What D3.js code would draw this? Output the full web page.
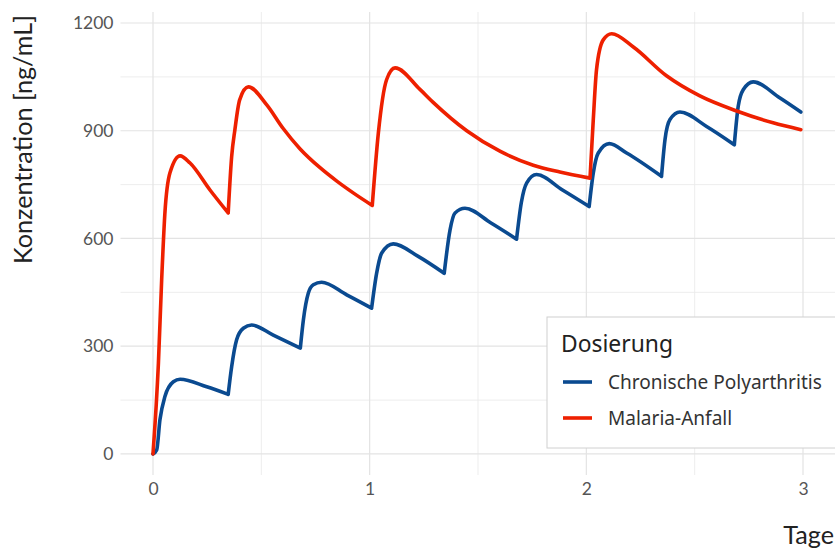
<!DOCTYPE html>
<html>
<head>
<meta charset="utf-8">
<script src="https://cdn.jsdelivr.net/npm/d3@7"></script>
<style>
  body { margin: 0; background: #fff; }
  .tick text { font-family: Lato, sans-serif; }
</style>
</head>
<body>
<div id="chart"></div>
<script>
// concentration curves: [day, ng/mL]
var seriesNames = ["Chronische Polyarthritis", "Malaria-Anfall"];
var seriesColors = ["#0a4a90", "#ee2000"];

var polyarthritis = [
  [0, 0], [0.017, 11], [0.032, 95], [0.055, 160], [0.094, 201], [0.125, 208], [0.248, 187], [0.347, 166],
  [0.363, 243], [0.386, 318], [0.417, 350], [0.455, 359], [0.555, 331], [0.68, 295],
  [0.694, 373], [0.717, 448], [0.74, 471], [0.778, 478], [0.894, 443], [1.009, 406],
  [1.032, 503], [1.055, 559], [1.109, 585], [1.224, 550], [1.344, 503],
  [1.371, 624], [1.394, 671], [1.44, 684], [1.56, 643], [1.678, 598],
  [1.70, 700], [1.725, 755], [1.77, 778], [1.89, 735], [2.013, 689],
  [2.032, 782], [2.055, 838], [2.106, 864], [2.186, 838], [2.347, 773],
  [2.363, 875], [2.386, 931], [2.432, 952], [2.555, 912], [2.683, 861],
  [2.701, 968], [2.724, 1014], [2.77, 1036], [2.894, 991], [2.99, 952]
];

var malaria = [
  [0, 0], [0.025, 253], [0.04, 485], [0.055, 671], [0.078, 782], [0.125, 830], [0.171, 810], [0.263, 735], [0.347, 671],
  [0.363, 828], [0.378, 903], [0.40, 986], [0.44, 1022], [0.525, 972], [0.60, 907], [0.678, 850], [0.771, 797], [0.85, 759], [0.924, 727], [1.012, 692],
  [1.04, 893], [1.078, 1042], [1.117, 1075], [1.232, 1015], [1.293, 979], [1.448, 900], [1.601, 843], [1.755, 804], [1.878, 785], [2.017, 768],
  [2.032, 930], [2.047, 1070], [2.078, 1153], [2.117, 1170], [2.217, 1133], [2.37, 1053], [2.524, 997], [2.694, 955], [2.862, 922], [2.99, 903]
];

var xTicks = [0, 1, 2, 3];
var yTicks = [0, 300, 600, 900, 1200];
var xMinor = [0.5, 1.5, 2.5];
var yMinor = [150, 450, 750, 1050];

var svgWidth = 835;
var svgHeight = 550;

var panel = { left: 120.5, right: 835.5, top: 12, bottom: 475 };

var svg = d3.select("#chart")
  .append("svg")
  .attr("width", svgWidth)
  .attr("height", svgHeight);

// ggplot-style 5% expansion
var xScale = d3.scaleLinear()
  .domain([-0.15, 3.15])
  .range([panel.left, panel.right]);

var yScale = d3.scaleLinear()
  .domain([-58.6, 1230.6])
  .range([panel.bottom, panel.top]);

// shrink/grow a text until it has the width seen in the picture
function fitWidth(sel, target) {
  var fs = parseFloat(sel.attr("font-size"));
  var w = sel.node().getComputedTextLength();
  if (w > 0) sel.attr("font-size", (fs * target / w).toFixed(2) + "px");
  return sel;
}

// grid
var grid = svg.append("g");

grid.selectAll(".vminor").data(xMinor).enter().append("line")
  .attr("x1", d => xScale(d)).attr("x2", d => xScale(d))
  .attr("y1", panel.top).attr("y2", panel.bottom)
  .attr("stroke", "#ebebeb").attr("stroke-width", 0.9);

grid.selectAll(".hminor").data(yMinor).enter().append("line")
  .attr("x1", panel.left).attr("x2", panel.right)
  .attr("y1", d => yScale(d)).attr("y2", d => yScale(d))
  .attr("stroke", "#ebebeb").attr("stroke-width", 0.9);

grid.selectAll(".vmajor").data(xTicks).enter().append("line")
  .attr("x1", d => xScale(d)).attr("x2", d => xScale(d))
  .attr("y1", panel.top).attr("y2", panel.bottom)
  .attr("stroke", "#e3e3e3").attr("stroke-width", 1.2);

grid.selectAll(".hmajor").data(yTicks).enter().append("line")
  .attr("x1", panel.left).attr("x2", panel.right)
  .attr("y1", d => yScale(d)).attr("y2", d => yScale(d))
  .attr("stroke", "#e3e3e3").attr("stroke-width", 1.2);

// axes (labels only, like theme_minimal)
var bottomAxis = d3.axisBottom(xScale).tickValues(xTicks).tickFormat(d3.format("d")).tickSize(0).tickPadding(0);
var leftAxis = d3.axisLeft(yScale).tickValues(yTicks).tickFormat(d3.format("d")).tickSize(0).tickPadding(0);

var xAxisG = svg.append("g")
  .attr("transform", `translate(0, ${panel.bottom + 8})`)
  .call(bottomAxis);
xAxisG.select(".domain").remove();
xAxisG.selectAll("text")
  .attr("dy", "0.71em")
  .attr("font-size", "17.5px")
  .attr("fill", "#555");

var yAxisG = svg.append("g")
  .attr("transform", `translate(${panel.left - 7}, 0)`)
  .call(leftAxis);
yAxisG.select(".domain").remove();
yAxisG.selectAll("text")
  .attr("font-size", "17.5px")
  .attr("fill", "#555");

// split each series at its troughs so the dose kinks stay sharp
function segmentsOf(data) {
  var segs = [];
  var cur = [data[0]];
  for (var i = 1; i < data.length; i++) {
    cur.push(data[i]);
    var isTrough = i < data.length - 1 && data[i][1] < data[i - 1][1] && data[i][1] < data[i + 1][1];
    if (isTrough) {
      segs.push(cur);
      cur = [data[i]];
    }
  }
  segs.push(cur);
  return segs;
}

var line = d3.line()
  .x(d => xScale(d[0]))
  .y(d => yScale(d[1]))
  .curve(d3.curveMonotoneX);

[polyarthritis, malaria].forEach(function(data, k) {
  var path = segmentsOf(data).map(s => line(s)).join("");
  svg.append("path")
    .attr("d", path)
    .attr("fill", "none")
    .attr("stroke", seriesColors[k])
    .attr("stroke-width", 3.6)
    .attr("stroke-linejoin", "round")
    .attr("stroke-linecap", "round");
});

// axis titles
var yTitle = svg.append("text")
  .attr("transform", "rotate(-90)")
  .attr("x", -264)
  .attr("y", 32)
  .attr("font-family", "Lato, sans-serif")
  .attr("font-size", "22px")
  .attr("fill", "#222")
  .text("Konzentration [ng/mL]");
fitWidth(yTitle, 249);

// the reference crops this title at the bottom edge; keep it just inside
svg.append("text")
  .attr("x", 834)
  .attr("y", 544)
  .attr("text-anchor", "end")
  .attr("font-family", "Lato, sans-serif")
  .attr("font-size", yTitle.attr("font-size"))
  .attr("fill", "#222")
  .text("Tage");

// legend
var legend = svg.append("g").attr("transform", "translate(547, 317)");

legend.append("rect")
  .attr("x", 0).attr("y", 0)
  .attr("width", 300).attr("height", 131)
  .attr("fill", "#fff")
  .attr("stroke", "#d0d0d0")
  .attr("stroke-width", 1);

var legTitle = legend.append("text")
  .attr("x", 14).attr("y", 35)
  .attr("font-family", "'Noto Sans', sans-serif")
  .attr("font-size", "20px")
  .attr("fill", "#222")
  .text("Dosierung");
fitWidth(legTitle, 112);

var labelSize = null;
seriesNames.forEach(function(name, i) {
  var yy = 65 + i * 36;
  legend.append("line")
    .attr("x1", 16).attr("x2", 45)
    .attr("y1", yy).attr("y2", yy)
    .attr("stroke", seriesColors[i])
    .attr("stroke-width", 3.6);
  var t = legend.append("text")
    .attr("x", 61).attr("y", yy)
    .attr("dy", "0.35em")
    .attr("font-family", "'Noto Sans', sans-serif")
    .attr("font-size", labelSize || "16px")
    .attr("fill", "#333")
    .text(name);
  if (!labelSize) {
    fitWidth(t, 214);
    labelSize = t.attr("font-size");
  }
});
</script>
</body>
</html>
